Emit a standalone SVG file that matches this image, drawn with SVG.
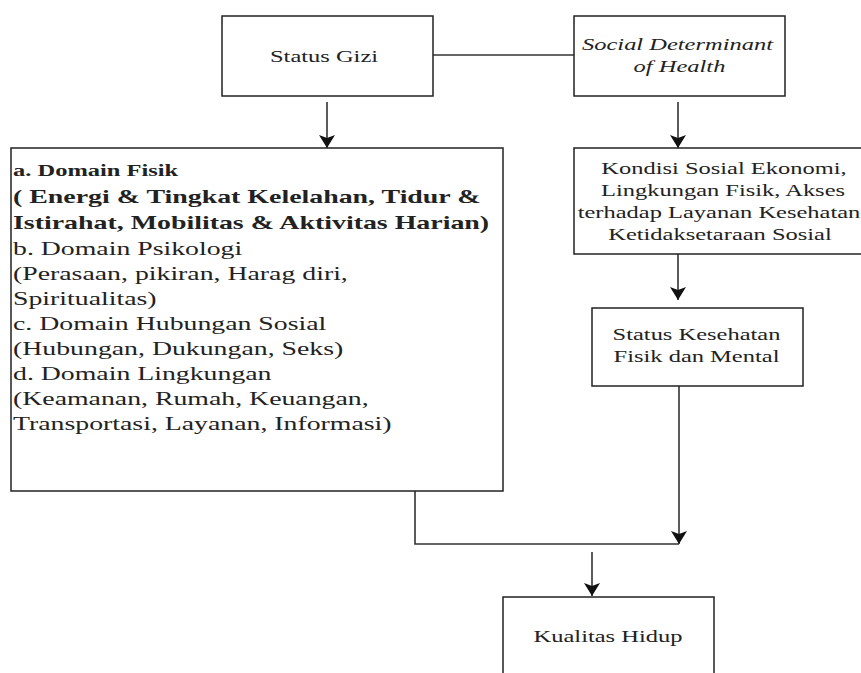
<svg xmlns="http://www.w3.org/2000/svg" width="861" height="673" viewBox="0 0 861 673">
<style>
.box{fill:#fff;stroke:#222;stroke-width:1.5}
.c{text-anchor:middle}
.ln{fill:none;stroke:#333;stroke-width:1.6}
.t{font-family:'Liberation Serif','Times New Roman',serif;fill:#222}
.s{font-size:17.5px}
.m{font-size:19.5px}
</style>
<defs>
<marker id="ah" markerUnits="userSpaceOnUse" markerWidth="20" markerHeight="20" viewBox="-17 -10 20 20" refX="0" refY="0" orient="auto">
<path d="M-13,-8 L0,0 L-13,8 L-10,0 Z" fill="#111"/>
</marker>
</defs>
<rect width="861" height="673" fill="#fff"/>
<g id="connectors">
<line class="ln" x1="433" y1="55" x2="574" y2="55"/>
<line class="ln" x1="327" y1="102" x2="327" y2="148" marker-end="url(#ah)"/>
<line class="ln" x1="678" y1="102" x2="678" y2="148" marker-end="url(#ah)"/>
<line class="ln" x1="678" y1="254" x2="678" y2="300" marker-end="url(#ah)"/>
<line class="ln" x1="679" y1="386" x2="679" y2="544" marker-end="url(#ah)"/>
<polyline class="ln" points="415,491 415,544 679,544"/>
<line class="ln" x1="592" y1="552" x2="592" y2="596" marker-end="url(#ah)"/>
</g>
<g id="status-gizi">
<rect class="box" x="222" y="16" width="211" height="80"/>
<text class="t s c" transform="translate(324,62) scale(1.4,1)">Status Gizi</text>
</g>
<g id="sdh">
<rect class="box" x="574" y="16" width="211" height="80"/>
<text class="t s c" font-style="italic" transform="translate(677.5,50) scale(1.4,1)">Social Determinant</text>
<text class="t s c" font-style="italic" transform="translate(679.5,72) scale(1.4,1)">of Health</text>
</g>
<g id="domain">
<rect class="box" x="11" y="148" width="492" height="343"/>
<text class="t" font-size="17.5" font-weight="bold" transform="translate(13,176) scale(1.4,1)">a. Domain Fisik</text>
<text class="t m" font-weight="bold" transform="translate(13,202.5) scale(1.43,1)">( Energi &amp; Tingkat Kelelahan, Tidur &amp;</text>
<text class="t m" font-weight="bold" transform="translate(13,229) scale(1.43,1)">Istirahat, Mobilitas &amp; Aktivitas Harian)</text>
<text class="t m" transform="translate(13,254.5) scale(1.425,1)">b. Domain Psikologi</text>
<text class="t m" transform="translate(13,280) scale(1.425,1)">(Perasaan, pikiran, Harag diri,</text>
<text class="t m" transform="translate(13,305) scale(1.425,1)">Spiritualitas)</text>
<text class="t m" transform="translate(13,330) scale(1.425,1)">c. Domain Hubungan Sosial</text>
<text class="t m" transform="translate(13,355) scale(1.425,1)">(Hubungan, Dukungan, Seks)</text>
<text class="t m" transform="translate(13,380) scale(1.425,1)">d. Domain Lingkungan</text>
<text class="t m" transform="translate(13,405) scale(1.425,1)">(Keamanan, Rumah, Keuangan,</text>
<text class="t m" transform="translate(13,430) scale(1.425,1)">Transportasi, Layanan, Informasi)</text>
</g>
<g id="kondisi">
<rect class="box" x="574" y="148" width="296" height="106"/>
<text class="t s c" transform="translate(724,174) scale(1.4,1)">Kondisi Sosial Ekonomi,</text>
<text class="t s c" transform="translate(723,196) scale(1.4,1)">Lingkungan Fisik, Akses</text>
<text class="t s c" transform="translate(719,218) scale(1.4,1)">terhadap Layanan Kesehatan</text>
<text class="t s c" transform="translate(720,240) scale(1.4,1)">Ketidaksetaraan Sosial</text>
</g>
<g id="status-kesehatan">
<rect class="box" x="592" y="308" width="211" height="78"/>
<text class="t s c" transform="translate(696.5,340) scale(1.4,1)">Status Kesehatan</text>
<text class="t s c" transform="translate(696.5,362) scale(1.4,1)">Fisik dan Mental</text>
</g>
<g id="kualitas-hidup">
<rect class="box" x="503" y="597" width="211" height="90"/>
<text class="t s c" transform="translate(608,642) scale(1.4,1)">Kualitas Hidup</text>
</g>
</svg>
